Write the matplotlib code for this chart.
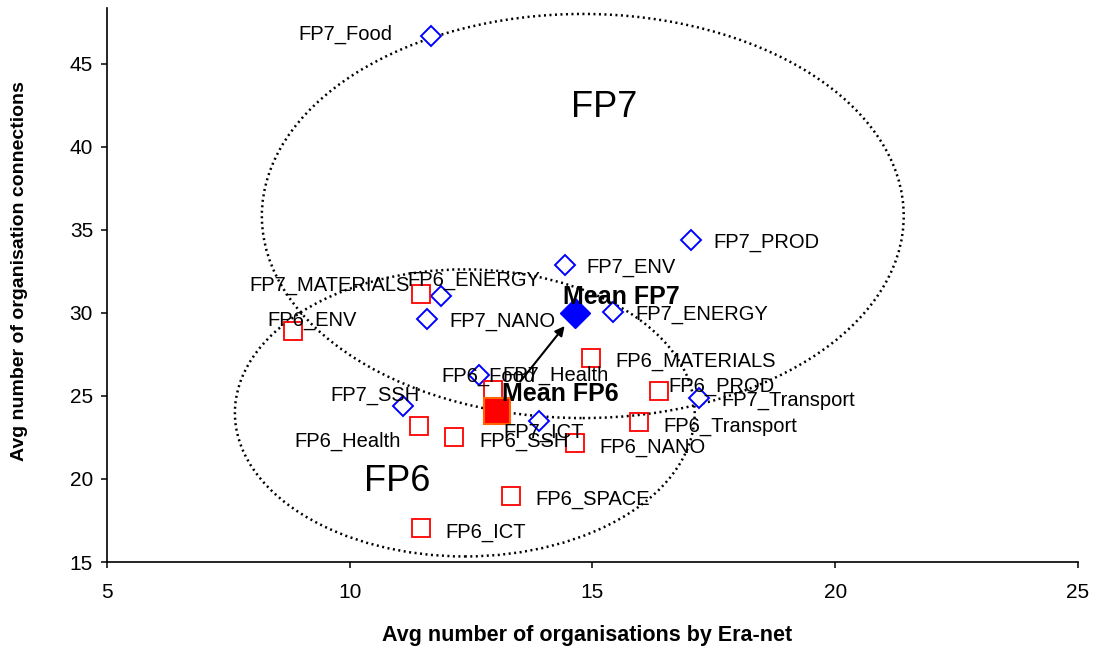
import matplotlib
import matplotlib.pyplot as plt
from matplotlib.patches import Ellipse

matplotlib.use("Agg")

plt.rcParams["font.family"] = ["Liberation Sans", "DejaVu Sans"]

# ---- data ----
fp7_names = ["FP7_Food", "FP7_PROD", "FP7_ENV", "FP7_MATERIALS", "FP7_NANO",
             "FP7_ENERGY", "FP7_Health", "FP7_SSH", "FP7_ICT", "FP7_Transport"]
fp7_x = [11.67, 17.03, 14.43, 11.88, 11.59, 15.42, 12.66, 11.10, 13.90, 17.19]
fp7_y = [46.69, 34.40, 32.89, 31.02, 29.64, 30.06, 26.27, 24.40, 23.49, 24.88]

fp6_names = ["FP6_ENERGY", "FP6_ENV", "FP6_Food", "FP6_Health", "FP6_SSH",
             "FP6_NANO", "FP6_MATERIALS", "FP6_PROD", "FP6_Transport",
             "FP6_SPACE", "FP6_ICT"]
fp6_x = [11.47, 8.83, 12.95, 11.43, 12.15, 14.64, 14.97, 16.37, 15.96, 13.32, 11.47]
fp6_y = [31.14, 28.92, 25.36, 23.19, 22.53, 22.17, 27.29, 25.30, 23.43, 18.98, 17.05]

mean_names = ["Mean FP6", "Mean FP7"]
mean_x = [13.03, 14.64]
mean_y = [24.10, 30.00]

# ---- layout: label offsets in pixels (dx, dy downward, alignment) ----
LABEL_POS = {
    "FP7_Food": (-38, -4, "right"), "FP7_PROD": (22, 0, "left"),
    "FP7_ENV": (22, 0, "left"), "FP7_MATERIALS": (-31, -13, "right"),
    "FP7_NANO": (22, 0, "left"), "FP7_ENERGY": (22, 0, "left"),
    "FP7_Health": (23, -2, "left"), "FP7_SSH": (16, -13, "right"),
    "FP7_ICT": (-36, 9, "left"), "FP7_Transport": (23, 0, "left"),
    "FP6_ENERGY": (-14, -16, "left"), "FP6_ENV": (-26, -13, "left"),
    "FP6_Food": (-52, -16, "left"), "FP6_Health": (-18, 13, "right"),
    "FP6_SSH": (25, 2, "left"), "FP6_NANO": (24, 2, "left"),
    "FP6_MATERIALS": (24, 1, "left"), "FP6_PROD": (9, -7, "left"),
    "FP6_Transport": (24, 2, "left"), "FP6_SPACE": (24, 1, "left"),
    "FP6_ICT": (24, 2, "left"),
    "Mean FP6": (5, -19, "left"), "Mean FP7": (-12, -18, "left"),
}
PX = 72 / 100  # pixels -> points at dpi 100

BLUE = "#0000FF"
RED = "#FF0000"

fig = plt.figure(figsize=(10.96, 6.48), dpi=100)
ax = fig.add_axes([0.0976, 0.1327, 0.886, 0.855])

# group ellipses (hand-drawn outlines in the original)
dots = dict(fill=False, edgecolor="black", linewidth=1.8,
            linestyle=(0, (0.8, 1.4)), zorder=1)
ax.add_patch(Ellipse((14.80, 35.84), 13.22, 24.34, **dots))
ax.add_patch(Ellipse((12.37, 23.98), 9.47, 17.29, **dots))

ax.plot(fp7_x, fp7_y, ls="none", marker="D", ms=10, mfc="white",
        mec=BLUE, mew=1.4, zorder=3)
ax.plot(fp6_x, fp6_y, ls="none", marker="s", ms=13, mfc="none",
        mec=RED, mew=1.3, zorder=3)
ax.plot(mean_x[0], mean_y[0], ls="none", marker="s", ms=19, mfc=RED,
        mec="#FF6600", mew=1.5, zorder=4)
ax.plot(mean_x[1], mean_y[1], ls="none", marker="D", ms=15, mfc=BLUE,
        mec=BLUE, zorder=4)

# arrow from mean FP6 to mean FP7
ax.annotate("", xy=(mean_x[1], mean_y[1]), xytext=(mean_x[0], mean_y[0]),
            arrowprops=dict(arrowstyle="-|>", color="black", lw=1.5,
                            mutation_scale=14, shrinkA=27, shrinkB=12),
            zorder=5)

for names, xs, ys in [(fp7_names, fp7_x, fp7_y), (fp6_names, fp6_x, fp6_y)]:
    for n, x, y in zip(names, xs, ys):
        dx, dy, ha = LABEL_POS[n]
        ax.annotate(n, (x, y), xytext=(dx * PX, -dy * PX),
                    textcoords="offset points", ha=ha,
                    va="center_baseline", fontsize=14.5, zorder=6)

for n, x, y in zip(mean_names, mean_x, mean_y):
    dx, dy, ha = LABEL_POS[n]
    ax.annotate(n, (x, y), xytext=(dx * PX, -dy * PX),
                textcoords="offset points", ha=ha, va="center_baseline",
                fontsize=18, fontweight="bold", zorder=6)

ax.text(15.24, 42.59, "FP7", fontsize=26, ha="center", va="center_baseline")
ax.text(10.97, 20.06, "FP6", fontsize=26, ha="center", va="center_baseline")

ax.set_xlim(5, 25)
ax.set_ylim(15, 48.37)
ax.set_xticks([5, 10, 15, 20, 25])
ax.set_yticks([15, 20, 25, 30, 35, 40, 45])
for s in ["top", "right"]:
    ax.spines[s].set_visible(False)
for s in ["left", "bottom"]:
    ax.spines[s].set_linewidth(1.2)
ax.tick_params(axis="both", direction="out", length=4, width=1.1,
               labelsize=15)
ax.tick_params(axis="x", pad=11)
ax.tick_params(axis="y", pad=6)

ax.set_xlabel("Avg number of organisations by Era-net", fontsize=15.5,
              fontweight="bold")
ax.set_ylabel("Avg number of organisation connections", fontsize=14,
              fontweight="bold")
ax.xaxis.set_label_coords(0.494, -0.113)
ax.yaxis.set_label_coords(-0.0813, 0.525)

fig.savefig("out.png", dpi=100)
